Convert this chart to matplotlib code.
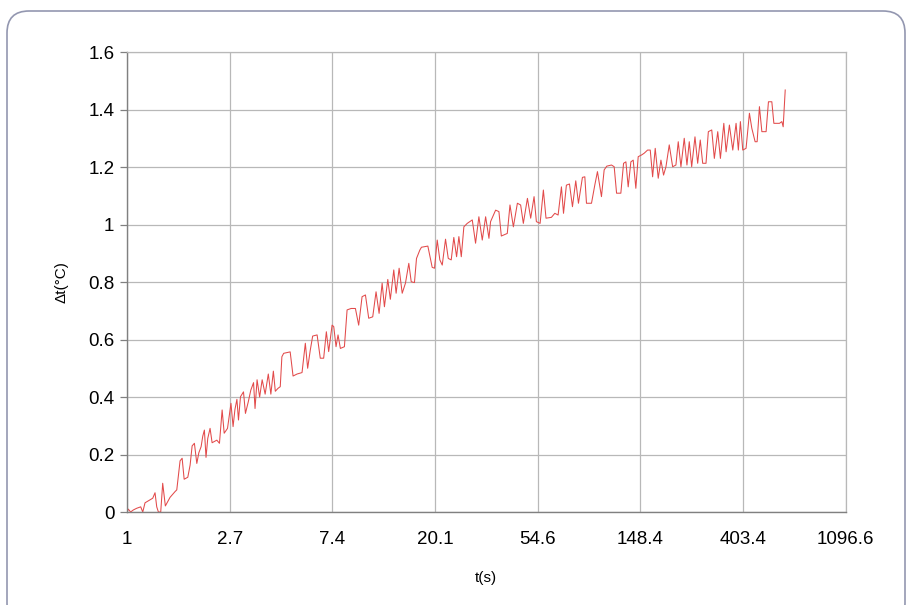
import numpy as np
import matplotlib
matplotlib.use("Agg")
import matplotlib.pyplot as plt
from matplotlib.patches import FancyBboxPatch
from matplotlib.ticker import FixedLocator, FixedFormatter, NullLocator
from matplotlib.transforms import IdentityTransform

plt.rcParams['font.family'] = ['Liberation Sans', 'DejaVu Sans']

# time (s) and temperature rise (°C)
t = [1.0, 1.013, 1.036, 1.063, 1.099, 1.143, 1.166, 1.192, 1.231, 1.285,
     1.314, 1.336, 1.358, 1.389, 1.416, 1.453, 1.521, 1.597, 1.624, 1.677,
     1.711, 1.745, 1.808, 1.849, 1.886, 1.928, 1.974, 2.013, 2.058, 2.092,
     2.125, 2.159, 2.196, 2.246, 2.291, 2.399, 2.461, 2.526, 2.577, 2.662,
     2.753, 2.81, 2.862, 2.917, 2.962, 3.02, 3.11, 3.17, 3.26, 3.34,
     3.43, 3.48, 3.55, 3.64, 3.73, 3.84, 3.96, 4.06, 4.16, 4.24,
     4.35, 4.449, 4.52, 4.60, 4.90, 5.04, 5.24, 5.50, 5.68, 5.81,
     5.96, 6.10, 6.37, 6.57, 6.79, 6.97, 7.13, 7.37, 7.49, 7.66,
     7.81, 7.99, 8.31, 8.53, 8.87, 9.25, 9.55, 9.87, 10.2, 10.53,
     10.95, 11.31, 11.65, 12.0, 12.27, 12.68, 13.0, 13.44, 13.75, 14.16,
     14.59, 15.06, 15.56, 15.93, 16.44, 16.77, 17.32, 17.6, 18.73, 19.54,
     19.99, 20.52, 21.05, 21.55, 22.25, 22.85, 23.52, 24.12, 24.78, 25.34,
     25.94, 26.6, 27.49, 28.87, 29.81, 30.79, 31.82, 32.88, 33.96, 34.5,
     36.24, 37.42, 38.31, 40.6, 41.68, 43.08, 44.8, 46.24, 47.47, 49.4,
     51.0, 52.7, 53.9, 55.9, 57.7, 59.2, 62.4, 64.5, 66.6, 68.8,
     70.2, 72.2, 74.4, 76.6, 79.1, 81.2, 84.4, 86.4, 87.8, 92.2,
     95.2, 97.7, 101.6, 104.3, 107.0, 112.0, 115.0, 117.7, 122.7, 126.0,
     128.9, 131.8, 135.3, 138.4, 142.0, 145.3, 150.2, 154.0, 159.2, 163.4,
     167.2, 171.5, 176.6, 181.3, 186.0, 190.4, 196.6, 203.2, 209.8, 214.6,
     220.3, 227.5, 233.6, 238.9, 244.6, 252.6, 259.3, 265.9, 272.3, 281.2,
     287.7, 297.4, 305.0, 315.3, 323.6, 334.5, 342.0, 353.2, 365.0, 376.9,
     385.4, 393.1, 402.3, 415.4, 429.2, 439.3, 453.7, 462.7, 473.2, 484.5,
     504.9, 516.6, 533.9, 544.6, 575.2, 588.6, 596.3, 608.3]
dT = [0.0, 0.01, 0.0, 0.007, 0.013, 0.018, 0.0, 0.032, 0.039, 0.048,
      0.067, 0.018, 0.0, 0.0, 0.10, 0.021, 0.051, 0.071, 0.077, 0.178,
      0.187, 0.114, 0.121, 0.163, 0.23, 0.239, 0.169, 0.206, 0.227, 0.264,
      0.285, 0.19, 0.256, 0.291, 0.241, 0.25, 0.239, 0.355, 0.274, 0.291,
      0.378, 0.297, 0.357, 0.392, 0.32, 0.401, 0.418, 0.343, 0.384, 0.424,
      0.45, 0.36, 0.46, 0.40, 0.46, 0.41, 0.48, 0.41, 0.49, 0.42,
      0.43, 0.436, 0.54, 0.552, 0.557, 0.473, 0.48, 0.485, 0.587, 0.50,
      0.563, 0.612, 0.616, 0.535, 0.535, 0.627, 0.558, 0.65, 0.645, 0.575,
      0.616, 0.569, 0.575, 0.703, 0.708, 0.708, 0.65, 0.749, 0.755, 0.674,
      0.679, 0.766, 0.691, 0.796, 0.714, 0.809, 0.74, 0.842, 0.761, 0.848,
      0.761, 0.796, 0.865, 0.801, 0.798, 0.882, 0.911, 0.921, 0.925, 0.851,
      0.848, 0.946, 0.877, 0.859, 0.949, 0.882, 0.877, 0.955, 0.888, 0.958,
      0.888, 0.992, 1.004, 1.016, 0.935, 1.027, 0.946, 1.027, 0.952, 1.01,
      1.05, 1.045, 0.96, 0.969, 1.068, 0.992, 1.074, 1.068, 1.004, 1.091,
      1.022, 1.097, 1.01, 1.004, 1.12, 1.022, 1.025, 1.039, 1.033, 1.131,
      1.039, 1.137, 1.141, 1.062, 1.152, 1.074, 1.164, 1.166, 1.074, 1.074,
      1.137, 1.184, 1.097, 1.19, 1.203, 1.207, 1.201, 1.109, 1.109, 1.213,
      1.218, 1.131, 1.218, 1.224, 1.126, 1.236, 1.242, 1.248, 1.259, 1.259,
      1.166, 1.265, 1.161, 1.224, 1.172, 1.201, 1.277, 1.201, 1.207, 1.288,
      1.201, 1.30, 1.207, 1.288, 1.201, 1.305, 1.213, 1.294, 1.213, 1.213,
      1.323, 1.329, 1.23, 1.323, 1.23, 1.352, 1.253, 1.346, 1.259, 1.352,
      1.259, 1.358, 1.259, 1.265, 1.387, 1.335, 1.288, 1.288, 1.41, 1.323,
      1.323, 1.427, 1.427, 1.352, 1.352, 1.358, 1.34, 1.468]

x_labels = ["1", "2.7", "7.4", "20.1", "54.6", "148.4", "403.4", "1096.6"]
y_ticks = [0, 0.2, 0.4, 0.6, 0.8, 1.0, 1.2, 1.4, 1.6]
y_labels = ["0", "0.2", "0.4", "0.6", "0.8", "1", "1.2", "1.4", "1.6"]

fig = plt.figure(figsize=(9.09, 6.05), dpi=100)
ax = fig.add_axes([0.1397, 0.1537, 0.7907, 0.7603])

ax.plot(t, dT, color="#e24a4a", lw=0.75)

ax.set_xscale("log", base=np.e)
ax.set_xlim(1, np.exp(7))
ax.set_ylim(0, 1.6)
ax.xaxis.set_major_locator(FixedLocator(np.exp(np.arange(8))))
ax.xaxis.set_major_formatter(FixedFormatter(x_labels))
ax.xaxis.set_minor_locator(NullLocator())
ax.yaxis.set_major_locator(FixedLocator(y_ticks))
ax.yaxis.set_major_formatter(FixedFormatter(y_labels))

ax.grid(True, color="#b8b8b8", lw=0.9)
ax.set_axisbelow(True)
for side in ["top", "right"]:
    ax.spines[side].set_color("#b8b8b8")
    ax.spines[side].set_linewidth(0.9)
for side in ["left", "bottom"]:
    ax.spines[side].set_color("#808080")
    ax.spines[side].set_linewidth(1.0)

ax.tick_params(axis="y", length=5, width=0.9, color="#808080", pad=4, labelsize=13.5)
ax.tick_params(axis="x", length=0, pad=14, labelsize=13.5)

ax.set_xlabel("t(s)", fontsize=11, labelpad=16)
ax.set_ylabel("Δt(°C)", fontsize=11, labelpad=14)

# rounded frame around the whole chart
frame = FancyBboxPatch((7, -20), 898, 614, boxstyle="round,pad=0,rounding_size=22",
                       transform=IdentityTransform(), fill=False,
                       edgecolor="#9397b0", lw=1.2, clip_on=False)
fig.patches.append(frame)

fig.savefig("out.png", dpi=100)
